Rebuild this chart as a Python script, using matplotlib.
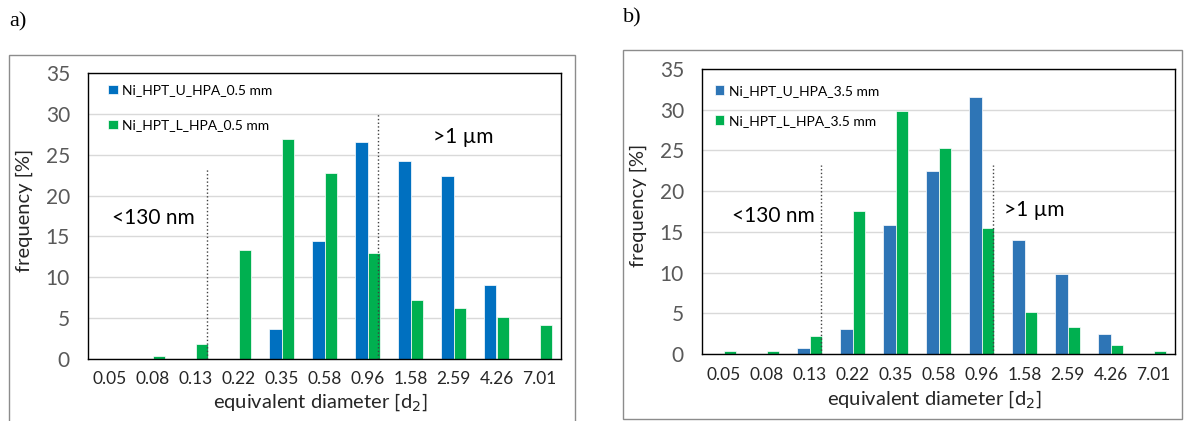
import matplotlib.pyplot as plt
from matplotlib.patches import Rectangle
import numpy as np

# Data
diameters = ["0.05", "0.08", "0.13", "0.22", "0.35", "0.58", "0.96", "1.58", "2.59", "4.26", "7.01"]

u_05 = [0, 0, 0, 0, 3.7, 14.5, 26.6, 24.2, 22.4, 9.1, 0]
l_05 = [0, 0.4, 1.8, 13.3, 26.9, 22.8, 13.0, 7.2, 6.2, 5.2, 4.2]

u_35 = [0, 0, 0.7, 3.1, 15.8, 22.5, 31.6, 14.0, 9.8, 2.5, 0]
l_35 = [0.4, 0.4, 2.25, 17.6, 29.8, 25.3, 15.5, 5.1, 3.3, 1.1, 0.4]

W, H = 1184, 421
plt.rcParams['font.family'] = ['Lato', 'DejaVu Sans']

fig = plt.figure(figsize=(W / 100, H / 100), dpi=100)
GRAY = '#595959'
GREEN = '#00B050'


def px_axes(x0, y_top, x1, y_bot):
    return fig.add_axes([x0 / W, 1 - y_bot / H, (x1 - x0) / W, (y_bot - y_top) / H])


def frame(x0, y0, x1, y1):
    fig.patches.append(Rectangle((x0 / W, 1 - y1 / H), (x1 - x0) / W, (y1 - y0) / H,
                                 transform=fig.transFigure, fill=False,
                                 edgecolor='#8c8c8c', linewidth=1.0))


def panel(ax, u, l, blue, labels, lines, txt_lo, txt_hi, leg_anchor, leg_spacing, xlab_y):
    x = np.arange(len(diameters))
    w = 0.28
    ax.bar(x - w / 2, u, width=w, color=blue, edgecolor='white', linewidth=0.5,
           label=labels[0], zorder=2)
    ax.bar(x + w / 2, l, width=w, color=GREEN, edgecolor='white', linewidth=0.5,
           label=labels[1], zorder=2)
    ax.set_xlim(-0.5, len(diameters) - 0.5)
    ax.set_ylim(0, 35)
    ax.set_yticks(np.arange(0, 36, 5))
    ax.set_xticks(x)
    ax.set_xticklabels(diameters)
    ax.tick_params(axis='y', length=0, pad=13, labelsize=15, colors=GRAY)
    ax.tick_params(axis='x', length=0, pad=9, labelsize=12.5, colors='#262626')
    ax.grid(axis='y', color='#d9d9d9', linewidth=1.0, zorder=0)
    ax.set_axisbelow(True)
    for s in ax.spines.values():
        s.set_color('black')
        s.set_linewidth(1.0)
    for (xv, top) in lines:
        ax.plot([xv, xv], [0, top], color='#404040', linestyle=':', linewidth=1.0, zorder=3)
    ax.text(txt_lo[0], txt_lo[1], "<130 nm", fontsize=15, ha='center', va='center')
    ax.text(txt_hi[0], txt_hi[1], ">1 \u00b5m", fontsize=15, ha='center', va='center')
    ax.set_ylabel("frequency [%]", fontsize=14.5, color='#262626')
    ax.yaxis.set_label_coords(-0.116, 0.52)
    ax.set_xlabel("equivalent diameter [d$_2$]", fontsize=14.5, color='#262626')
    ax.xaxis.set_label_coords(0.49, xlab_y)
    ax.legend(loc='upper left', bbox_to_anchor=leg_anchor, frameon=False,
              fontsize=10, handlelength=0.7, handleheight=0.7, handletextpad=0.35,
              borderpad=0, borderaxespad=0, labelspacing=leg_spacing)


# a)
frame(9, 55, 575, 430)
ax1 = px_axes(88, 73, 561, 359)
panel(ax1, u_05, l_05, '#0070C0',
      ["Ni_HPT_U_HPA_0.5 mm", "Ni_HPT_L_HPA_0.5 mm"],
      [(2.27, 23.4), (6.24, 30.0)], (1.03, 17.3), (8.22, 27.2),
      (0.042, 0.96), 1.65, -0.115)

# b)
frame(623, 50, 1182, 419)
ax2 = px_axes(702, 69, 1175, 354)
panel(ax2, u_35, l_35, '#2E75B6',
      ["Ni_HPT_U_HPA_3.5 mm", "Ni_HPT_L_HPA_3.5 mm"],
      [(2.26, 23.2), (6.27, 23.2)], (1.15, 17.0), (7.22, 17.7),
      (0.027, 0.945), 1.3, -0.12)

fig.text(9 / W, 1 - 22 / H, "a)", family='Liberation Serif', fontsize=16, va='center')
fig.text(623 / W, 1 - 18 / H, "b)", family='Liberation Serif', fontsize=16, va='center')

fig.savefig("out.png", dpi=100)
